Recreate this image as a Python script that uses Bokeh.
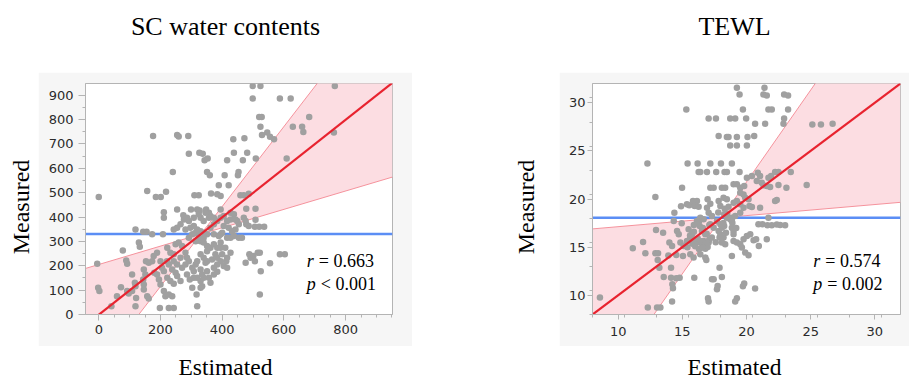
import math
from bokeh.plotting import figure
from bokeh.models import Range1d, FixedTicker, Spacer
from bokeh.layouts import row, column
from bokeh.core.properties import value
from bokeh.embed import file_html
from bokeh.resources import INLINE

# ---------------- data ----------------
titles = ["SC water contents", "TEWL"]
x_label = "Estimated"
y_label = "Measured"

# SC water contents: (estimated, measured)
sc_points = [
    (499, 938), (524, 938), (765, 938), (499, 886), (587, 886), (622, 886), (520, 811), (528, 811),
    (682, 811), (524, 770), (629, 770), (659, 770), (663, 749), (762, 747), (529, 737), (546, 747),
    (555, 729), (568, 719), (176, 733), (254, 737), (259, 731), (290, 733), (436, 719), (472, 723),
    (292, 660), (326, 664), (337, 660), (438, 664), (481, 664), (343, 633), (353, 640), (416, 633),
    (467, 633), (509, 640), (609, 640), (240, 585), (351, 585), (360, 571), (408, 571), (453, 585),
    (451, 571), (389, 530), (421, 530), (0, 482), (157, 507), (185, 482), (201, 482), (218, 504),
    (310, 489), (324, 489), (364, 497), (384, 493), (395, 486), (459, 489), (470, 489), (486, 496),
    (211, 420), (211, 397), (254, 431), (274, 407), (276, 390), (299, 431), (319, 431), (327, 427),
    (348, 431), (357, 418), (362, 404), (373, 397), (395, 431), (478, 434), (508, 434), (508, 389),
    (119, 349), (144, 340), (155, 340), (173, 329), (208, 329), (130, 295), (133, 278), (78, 263),
    (89, 222), (92, 208), (-5, 208), (-2, 110), (2, 96), (108, 164), (117, 130), (92, 96),
    (97, 86), (72, 112), (59, 75), (41, 34), (121, 68), (119, 34), (153, 219), (162, 212),
    (146, 185), (151, 164), (144, 144), (146, 123), (146, 103), (157, 75), (162, 66), (180, 171),
    (189, 164), (195, 144), (200, 123), (211, 96), (216, 75), (227, 82), (238, 75), (198, 27),
    (227, 27), (243, 27), (317, 82), (319, 34), (330, 110), (335, 116), (222, 274), (232, 253),
    (243, 247), (249, 288), (259, 295), (270, 281), (221, 219), (227, 205), (238, 185), (249, 171),
    (254, 158), (265, 137), (222, 151), (232, 137), (243, 126), (270, 192), (281, 205), (286, 233),
    (286, 164), (295, 144), (303, 110), (308, 151), (292, 315), (303, 329), (314, 336), (281, 349),
    (297, 356), (308, 363), (319, 349), (330, 342), (340, 336), (330, 301), (340, 295), (351, 281),
    (351, 260), (330, 247), (340, 233), (346, 212), (319, 219), (330, 185), (335, 164), (351, 178),
    (357, 151), (362, 130), (373, 192), (384, 205), (395, 219), (378, 247), (384, 274), (395, 295),
    (362, 356), (373, 370), (384, 384), (373, 329), (389, 322), (400, 336), (405, 363), (416, 384),
    (427, 390), (421, 356), (432, 342), (443, 349), (449, 384), (454, 370), (427, 315), (438, 322),
    (454, 315), (410, 274), (427, 253), (405, 199), (416, 192), (413, 219), (416, 233), (373, 164),
    (384, 175), (464, 315), (486, 363), (478, 370), (506, 360), (520, 360), (536, 360), (476, 212),
    (488, 247), (492, 233), (501, 240), (506, 219), (515, 253), (522, 253), (525, 178), (522, 82),
    (555, 210), (587, 247), (603, 247), (470, 397), (476, 384), (200, 219), (205, 192), (211, 178),
    (189, 253), (173, 219), (119, 116), (108, 96), (178, 240), (243, 219), (254, 205), (265, 233),
    (281, 253), (292, 219), (303, 192), (314, 205), (308, 178), (319, 151), (330, 137), (340, 151),
    (351, 219), (367, 226), (362, 274), (373, 288), (351, 329), (340, 384), (357, 397), (346, 418),
    (330, 397), (324, 411), (308, 397), (292, 384), (286, 397), (265, 370), (254, 356), (243, 349),
    (340, 315), (324, 315), (314, 301), (395, 397), (405, 404), (427, 418), (438, 411), (443, 390),
    (395, 329), (416, 315), (395, 274), (400, 247), (384, 233),
]
sc_est = [p[0] for p in sc_points]
sc_meas = [p[1] for p in sc_points]

# TEWL: (estimated, measured)
tewl_points = [
    (8.58, 9.76), (11.14, 14.88), (11.94, 15.54), (12.12, 14.36), (12.28, 23.70), (12.31, 8.72),
    (12.90, 20.21), (12.95, 16.78), (12.90, 14.36), (13.11, 14.36), (13.08, 13.67), (13.21, 12.87),
    (13.03, 8.72), (13.29, 8.72), (13.50, 16.50), (13.55, 11.90), (13.99, 15.47), (14.20, 15.12),
    (13.91, 14.12), (14.12, 12.87), (14.12, 11.83), (14.22, 11.14), (14.27, 10.73), (14.20, 9.34),
    (14.38, 18.58), (14.33, 17.72), (14.59, 16.68), (14.53, 14.19), (14.85, 15.47), (15.10, 15.12),
    (14.72, 16.33), (14.95, 17.47), (14.90, 19.24), (14.98, 21.18), (15.05, 14.08), (14.53, 11.76),
    (14.79, 11.83), (15.31, 29.31), (15.41, 23.70), (15.36, 19.45), (15.54, 19.34), (15.36, 15.64),
    (15.62, 15.99), (15.75, 16.33), (15.49, 16.85), (15.80, 15.36), (16.01, 15.47), (16.14, 15.81),
    (15.93, 11.83), (15.62, 14.26), (15.88, 13.91), (16.19, 23.70), (16.27, 22.80), (16.40, 22.80),
    (15.83, 19.79), (16.14, 19.79), (15.96, 19.27), (16.27, 19.20), (16.40, 18.06), (16.66, 17.89),
    (16.14, 17.72), (16.35, 17.20), (16.53, 16.68), (16.79, 16.33), (16.40, 15.47), (16.66, 15.64),
    (16.92, 15.29), (17.05, 15.47), (16.53, 14.95), (16.79, 14.84), (16.97, 15.02), (16.40, 14.26),
    (16.79, 13.91), (16.87, 13.67), (17.05, 28.37), (17.62, 28.37), (17.18, 23.70), (18.01, 23.70),
    (18.86, 23.70), (16.92, 22.80), (17.64, 22.80), (18.29, 22.80), (18.47, 22.80), (19.46, 22.80),
    (17.18, 21.18), (17.44, 21.18), (16.97, 19.97), (17.18, 19.51), (16.92, 19.10), (17.05, 18.58),
    (17.31, 18.24), (17.18, 17.37), (17.44, 17.02), (17.70, 17.72), (17.83, 16.68), (17.31, 11.66),
    (17.44, 11.66), (17.70, 10.62), (17.75, 10.97), (17.00, 9.69), (17.05, 9.34), (17.83, 26.54),
    (18.08, 11.90), (17.90, 12.87), (17.96, 19.27), (17.83, 19.79), (18.21, 20.14), (18.47, 19.97),
    (18.08, 21.18), (18.34, 21.18), (18.26, 18.41), (18.47, 18.06), (18.73, 17.89), (17.96, 16.33),
    (18.21, 15.99), (18.08, 15.47), (18.34, 15.29), (17.96, 17.37), (18.08, 17.02), (18.26, 17.20),
    (18.47, 26.44), (18.60, 26.44), (19.25, 26.44), (18.73, 25.57), (19.25, 25.57), (20.03, 25.57),
    (18.73, 28.37), (19.12, 28.37), (19.25, 31.56), (19.46, 30.87), (19.72, 29.31), (19.97, 28.37),
    (20.08, 26.44), (20.60, 26.54), (20.67, 27.82), (20.67, 10.69), (19.72, 10.93), (19.82, 11.21),
    (19.25, 9.69), (19.12, 9.34), (18.86, 14.08), (18.99, 15.64), (19.25, 15.47), (19.51, 15.29),
    (19.77, 15.81), (20.03, 16.16), (19.90, 14.43), (20.16, 14.15), (19.64, 14.95), (18.86, 17.02),
    (18.99, 16.68), (18.99, 16.33), (18.86, 18.06), (19.12, 18.24), (18.86, 17.72), (19.25, 19.79),
    (19.51, 19.45), (19.77, 19.10), (19.51, 20.66), (19.77, 20.48), (18.99, 21.52), (19.25, 21.52),
    (19.51, 21.18), (19.82, 21.35), (20.03, 22.21), (20.42, 22.39), (19.90, 20.14), (20.16, 19.97),
    (20.23, 19.27), (20.42, 19.17), (19.51, 18.58), (20.29, 16.33), (20.55, 15.71), (20.75, 15.81),
    (20.96, 15.12), (20.88, 22.73), (21.06, 22.39), (20.80, 21.86), (21.19, 21.69), (21.06, 19.10),
    (21.40, 31.56), (21.32, 30.87), (21.58, 30.76), (21.45, 27.82), (21.71, 29.31), (21.97, 29.31),
    (21.32, 21.42), (21.58, 21.35), (21.84, 21.25), (21.71, 22.21), (21.92, 22.39), (21.71, 18.06),
    (21.58, 15.81), (20.93, 17.37), (21.24, 17.37), (21.63, 17.27), (21.97, 17.27), (22.36, 17.34),
    (22.62, 17.30), (23.01, 17.27), (22.23, 19.79), (22.36, 19.90), (22.23, 22.80), (22.49, 22.80),
    (22.49, 21.45), (22.93, 30.87), (23.24, 30.76), (23.24, 29.31), (22.88, 27.82), (22.93, 28.37),
    (23.11, 21.18), (23.45, 22.80), (24.69, 21.45), (25.13, 27.75), (25.80, 27.75), (26.71, 27.82),
    (15.6, 16.2), (15.9, 16.6), (16.2, 15.9), (16.5, 15.6), (16.8, 15.3), (15.8, 15.4),
    (16.0, 15.1), (16.3, 14.8), (16.6, 15.0), (17.1, 15.8), (15.4, 15.0), (15.9, 17.3),
    (16.3, 17.7), (16.6, 17.0), (17.1, 17.3), (16.9, 16.4), (17.3, 16.0), (17.6, 15.5),
    (17.9, 16.0), (18.2, 17.5), (18.5, 18.5), (18.6, 19.2), (19.0, 19.6), (18.3, 19.0),
    (17.8, 18.6), (18.9, 17.5), (19.2, 17.0), (18.4, 16.5),
]
tewl_est = [p[0] for p in tewl_points]
tewl_meas = [p[1] for p in tewl_points]

# fit statistics
sc_fit = dict(mean_x=331, mean_y=330, slope=1.0, lo_slope=0.377, hi_slope=1.64)
tewl_fit = dict(mean_x=18.05, mean_y=18.05, slope=1.0, lo_slope=0.115, hi_slope=1.909)

sc_stats = ["r", "= 0.663", "p", "< 0.001"]
tewl_stats = ["r", "= 0.574", "p", "= 0.002"]

sc_xticks = [0, 200, 400, 600, 800]
sc_yticks = [0, 100, 200, 300, 400, 500, 600, 700, 800, 900]
tewl_ticks = [10, 15, 20, 25, 30]

# ---------------- style ----------------
SERIF = value("Liberation Serif")
BOX_GRAY = "#f6f6f6"
AXIS_GRAY = "#b4b4b4"
PT_GRAY = "#a0a0a0"
RED = "#e8232f"
PINK = "#fcdde2"
PINK_LINE = "#f5929c"
BLUE = "#5b8ef5"


def main_fig(width, xr, yr, xticks, xminor, yticks, yminor, fit, xs, ys, stats, stat_pos,
             mb_left, mb_right, y_tick_out, y_standoff, x_tick_out, x_standoff):
    p = figure(width=width, height=274, x_range=Range1d(*xr), y_range=Range1d(*yr),
               output_backend="svg", toolbar_location=None,
               min_border_left=mb_left, min_border_right=mb_right,
               min_border_top=11, min_border_bottom=32,
               background_fill_color="white", border_fill_color=BOX_GRAY,
               outline_line_color=AXIS_GRAY)
    p.grid.visible = False
    p.xaxis.ticker = FixedTicker(ticks=xticks, minor_ticks=xminor)
    p.yaxis.ticker = FixedTicker(ticks=yticks, minor_ticks=yminor)
    for ax, to, so in ((p.xaxis, x_tick_out, x_standoff), (p.yaxis, y_tick_out, y_standoff)):
        ax.axis_line_color = AXIS_GRAY
        ax.major_tick_line_color = AXIS_GRAY
        ax.minor_tick_line_color = AXIS_GRAY
        ax.major_tick_in = 0
        ax.minor_tick_in = 0
        ax.major_tick_out = to
        ax.minor_tick_out = 3
        ax.major_label_standoff = so
        ax.major_label_text_font = "DejaVu Sans"
        ax.major_label_text_font_size = "13px"
        ax.major_label_text_color = "#2b2b2b"

    x0, x1 = xr
    mx, my = fit["mean_x"], fit["mean_y"]

    def at(slope, x):
        return my + slope * (x - mx)

    # confidence "bow-tie"
    p.patches([[x0, x0, mx], [x1, x1, mx]],
              [[at(fit["hi_slope"], x0), at(fit["lo_slope"], x0), my],
               [at(fit["hi_slope"], x1), at(fit["lo_slope"], x1), my]],
              fill_color=PINK, line_color=None)
    for s in (fit["lo_slope"], fit["hi_slope"]):
        p.line([x0, x1], [at(s, x0), at(s, x1)], line_color=PINK_LINE, line_width=1)
    # mean line
    p.line([x0, x1], [my, my], line_color=BLUE, line_width=2.5)
    # points
    p.scatter(xs, ys, size=6.5, fill_color=PT_GRAY, line_color=None)
    # fit line
    p.line([x0, x1], [at(fit["slope"], x0), at(fit["slope"], x1)], line_color=RED, line_width=2.2)

    # r / p annotation
    sx, sy_r, sy_p = stat_pos
    p.text([sx, sx], [sy_r, sy_p], [stats[0], stats[2]], text_font=SERIF,
           text_font_style="italic", text_font_size="18px", text_baseline="middle",
           text_align="left", text_color="black")
    p.text([sx], [sy_r], [stats[1]], x_offset=12, text_font=SERIF, text_font_size="18px",
           text_baseline="middle", text_align="left", text_color="black")
    p.text([sx], [sy_p], [stats[3]], x_offset=14, text_font=SERIF, text_font_size="18px",
           text_baseline="middle", text_align="left", text_color="black")
    return p


def text_fig(w, h, txt, x, y, angle=0.0, size="24px"):
    f = figure(width=w, height=h, x_range=Range1d(0, w), y_range=Range1d(0, h),
               output_backend="svg", toolbar_location=None, min_border=0,
               x_axis_location=None, y_axis_location=None,
               outline_line_color=None, background_fill_color="white",
               border_fill_color="white")
    f.grid.visible = False
    f.text([x], [y], [txt], text_font=SERIF, text_font_size=size, text_align="center",
           text_baseline="middle", angle=angle, text_color="black")
    return f


# left panel (x 0..500)
sc_main = main_fig(374, (-43, 952), (0, 948), sc_xticks, list(range(-50, 1000, 50)),
                   sc_yticks, list(range(0, 1000, 50)), sc_fit, sc_est, sc_meas,
                   sc_stats, (674, 219, 124), 47, 20, 7, 5, 6, 4)
left = column(
    text_fig(500, 72, titles[0], 225, 46, size="26px"),
    row(text_fig(38, 274, y_label, 20, 127.5, angle=math.pi / 2),
        sc_main, Spacer(width=88, height=274)),
    text_fig(500, 32, x_label, 225, 12, size="23.5px"),
)

# right panel (x 500..909)
tw_main = main_fig(350, (8, 32), (8, 32), tewl_ticks, [x / 2 for x in range(16, 66, 5)],
                   tewl_ticks, [x / 2 for x in range(16, 66, 5)], tewl_fit, tewl_est, tewl_meas,
                   tewl_stats, (25.21, 13.56, 11.17), 33, 9, 5, 2, 5, 7)
right = column(
    text_fig(409, 72, titles[1], 234, 46, size="26px"),
    row(text_fig(59, 274, y_label, 25, 127.5, angle=math.pi / 2), tw_main),
    text_fig(409, 32, x_label, 234, 12, size="23.5px"),
)

layout = row(left, right)
open("out.html", "w").write(file_html(layout, INLINE))
